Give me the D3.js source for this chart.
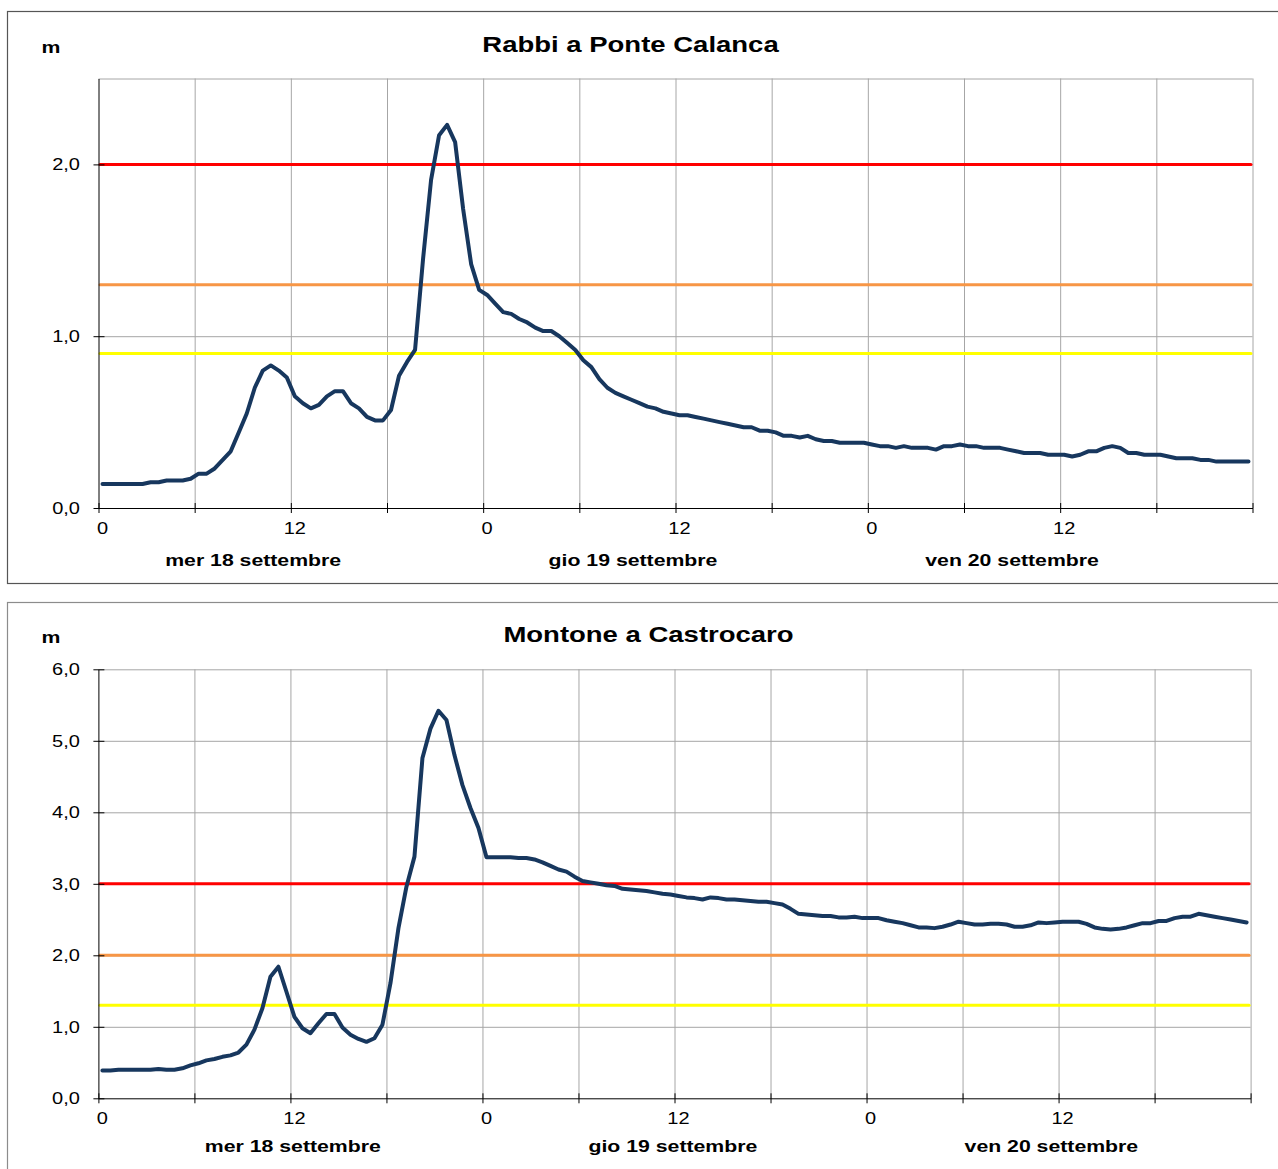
<!DOCTYPE html>
<html lang="it">
<meta charset="utf-8">
<style>
  body{ margin:0; background:#fff }
  text{ font-family:'Liberation Sans', Arial, sans-serif; fill:#000 }
  .title{ font-size:22px; font-weight:bold; text-anchor:middle }
  .unit{ font-size:17px; font-weight:bold; text-anchor:middle }
  .day{ font-size:17px; font-weight:bold; text-anchor:middle }
  .grid line{ stroke:#a6a6a6; stroke-width:1px }
  .grid path{ display:none }
</style>
<body>
<script src="https://cdn.jsdelivr.net/npm/d3@7"></script>
<script>

  // half-hour readings, 18-20 settembre (144 slots)
  var rabbiLevels = [
    0.14,0.14,0.14,0.14,0.14,0.14,0.15,0.15,0.16,0.16,
    0.16,0.17,0.20,0.20,0.23,0.28,0.33,0.44,0.55,0.70,
    0.80,0.83,0.80,0.76,0.65,0.61,0.58,0.60,0.65,0.68,
    0.68,0.61,0.58,0.53,0.51,0.51,0.57,0.77,0.85,0.92,
    1.45,1.91,2.17,2.23,2.13,1.74,1.42,1.27,1.24,1.19,
    1.14,1.13,1.10,1.08,1.05,1.03,1.03,1.00,0.96,0.92,
    0.86,0.82,0.75,0.70,0.67,0.65,0.63,0.61,0.59,0.58,
    0.56,0.55,0.54,0.54,0.53,0.52,0.51,0.50,0.49,0.48,
    0.47,0.47,0.45,0.45,0.44,0.42,0.42,0.41,0.42,0.40,
    0.39,0.39,0.38,0.38,0.38,0.38,0.37,0.36,0.36,0.35,
    0.36,0.35,0.35,0.35,0.34,0.36,0.36,0.37,0.36,0.36,
    0.35,0.35,0.35,0.34,0.33,0.32,0.32,0.32,0.31,0.31,
    0.31,0.30,0.31,0.33,0.33,0.35,0.36,0.35,0.32,0.32,
    0.31,0.31,0.31,0.30,0.29,0.29,0.29,0.28,0.28,0.27,
    0.27,0.27,0.27,0.27
  ]
  var montoneLevels = [
    0.39,0.39,0.40,0.40,0.40,0.40,0.40,0.41,0.40,0.40,
    0.42,0.46,0.49,0.53,0.55,0.58,0.60,0.64,0.75,0.96,
    1.26,1.70,1.84,1.49,1.14,0.98,0.91,1.05,1.18,1.18,
    0.99,0.89,0.83,0.79,0.84,1.03,1.61,2.38,2.96,3.38,
    4.76,5.17,5.42,5.29,4.80,4.38,4.06,3.78,3.37,3.37,
    3.37,3.37,3.36,3.36,3.34,3.30,3.25,3.20,3.17,3.10,
    3.04,3.02,3.00,2.98,2.97,2.93,2.92,2.91,2.90,2.88,
    2.86,2.85,2.83,2.81,2.80,2.78,2.81,2.80,2.78,2.78,
    2.77,2.76,2.75,2.75,2.73,2.71,2.65,2.58,2.57,2.56,
    2.55,2.55,2.53,2.53,2.54,2.52,2.52,2.52,2.49,2.47,
    2.45,2.42,2.39,2.39,2.38,2.40,2.43,2.47,2.45,2.43,
    2.43,2.44,2.44,2.43,2.40,2.40,2.42,2.46,2.45,2.46,
    2.47,2.47,2.47,2.44,2.39,2.37,2.36,2.37,2.39,2.42,
    2.45,2.45,2.48,2.48,2.52,2.54,2.54,2.58,2.56,2.54,
    2.52,2.50,2.48,2.46
  ]

  var rabbiThresholds = [2.0, 1.3, 0.9]
  var montoneThresholds = [3.0, 2.0, 1.3]
  var rabbiYTicks = [0, 1, 2]
  var montoneYTicks = [0, 1, 2, 3, 4, 5, 6]
  var xTickLabels = ['0', '12', '0', '12', '0', '12']
  var dayNames = ['mer 18 settembre', 'gio 19 settembre', 'ven 20 settembre']

  var thresholdColors = ['#FF0000', '#F79646', '#FFFF00']
  var SLOTS = 144
  var SX = 1.25   // text in the source is stretched horizontally

  var charts = [
    {title:'Rabbi a Ponte Calanca', values:rabbiLevels, thresholds:rabbiThresholds, yTicks:rabbiYTicks, yMax:2.5,
     frameTop:11.5, frameBottom:583.5, frameColor:'#555',
     left:98.5, right:1252.5, top:78.5, bottom:508,
     titleX:630.5, titleY:52, unitY:53, daySlots:[19.3, 66.7, 114], dayDy:58},
    {title:'Montone a Castrocaro', values:montoneLevels, thresholds:montoneThresholds, yTicks:montoneYTicks, yMax:6,
     frameTop:602.5, frameBottom:1200, frameColor:'#8c8c8c',
     left:98.4, right:1250.6, top:669.3, bottom:1098.3,
     titleX:648.5, titleY:642, unitY:643, daySlots:[24.3, 71.8, 119.1], dayDy:54}
  ]

  var fmt = d3.formatLocale({decimal:',', thousands:'.', grouping:[3], currency:['', '€']}).format('.1f')

  var svg = d3.select('body').append('svg').attr('width', 1278).attr('height', 1169)
  svg.append('rect').attr('width', 1278).attr('height', 1169).attr('fill', '#fff')

  function stretched(sel, x, y){
    return sel.attr('transform', 'translate(' + x + ',' + y + ') scale(' + SX + ',1)')
  }

  charts.forEach(function(c){
    var x = d3.scaleLinear().domain([0, SLOTS]).range([c.left, c.right])
    var y = d3.scaleLinear().domain([0, c.yMax]).range([c.bottom, c.top])

    svg.append('rect')
      .attr('x', 7.5).attr('y', c.frameTop)
      .attr('width', 1300).attr('height', c.frameBottom - c.frameTop)
      .attr('fill', 'none').attr('stroke', c.frameColor).attr('stroke-width', 1.2)

    stretched(svg.append('text').attr('class', 'title'), c.titleX, c.titleY).text(c.title)
    stretched(svg.append('text').attr('class', 'unit'), 51, c.unitY).text('m')

    // grid
    svg.append('g').attr('class', 'grid')
      .attr('transform', 'translate(0,' + c.bottom + ')')
      .call(d3.axisBottom(x).tickValues(d3.range(12, SLOTS + 1, 12)).tickSize(-(c.bottom - c.top)).tickFormat(''))
    var yGrid = c.yTicks.filter(function(v){ return v > 0 })
    if (yGrid.indexOf(c.yMax) < 0) yGrid.push(c.yMax)
    svg.append('g').attr('class', 'grid')
      .attr('transform', 'translate(' + c.left + ',0)')
      .call(d3.axisLeft(y).tickValues(yGrid).tickSize(-(c.right - c.left)).tickFormat(''))

    // alert thresholds
    svg.append('g').selectAll('line').data(c.thresholds).join('line')
      .attr('x1', x(0) + 1.5).attr('x2', x(SLOTS) - 1.5)
      .attr('y1', function(d){ return y(d) }).attr('y2', function(d){ return y(d) })
      .attr('stroke', function(d, i){ return thresholdColors[i] })
      .attr('stroke-width', 3).attr('stroke-linecap', 'round')

    // axes
    var xa = svg.append('g').attr('transform', 'translate(0,' + c.bottom + ')')
      .call(d3.axisBottom(x).tickValues(d3.range(0, SLOTS + 1, 12)).tickSizeOuter(0)
        .tickFormat(function(d){ return (d % 24 === 0 && d < SLOTS) ? xTickLabels[d / 24] : '' }))
    xa.select('.domain').attr('stroke', '#000')
    xa.selectAll('.tick line').attr('y1', -5).attr('y2', 5).attr('stroke', '#000')
    xa.selectAll('.tick text')
      .attr('x', 3.5 / SX).attr('y', 26).attr('dy', null)
      .attr('transform', 'scale(' + SX + ',1)')
      .style('font-family', "'Liberation Sans', Arial, sans-serif").style('font-size', '16px')

    var ya = svg.append('g').attr('transform', 'translate(' + c.left + ',0)')
      .call(d3.axisLeft(y).tickValues(c.yTicks).tickFormat(fmt).tickSizeOuter(0))
    ya.select('.domain').attr('stroke', '#000')
    ya.selectAll('.tick line').attr('x1', -5).attr('x2', 6).attr('stroke', '#000')
    ya.selectAll('.tick text')
      .attr('x', -18.5 / SX).attr('dy', '0.34em')
      .attr('transform', 'scale(' + SX + ',1)')
      .style('font-family', "'Liberation Sans', Arial, sans-serif").style('font-size', '16px')

    // day names
    c.daySlots.forEach(function(s, i){
      stretched(svg.append('text').attr('class', 'day'), x(s), c.bottom + c.dayDy).text(dayNames[i])
    })

    // water level
    var line = d3.line()
      .x(function(d, i){ return x(i + 0.5) })
      .y(function(d){ return y(d) })
    svg.append('path').datum(c.values)
      .attr('d', line)
      .attr('fill', 'none')
      .attr('stroke', '#17375E')
      .attr('stroke-width', 4)
      .attr('stroke-linejoin', 'round')
      .attr('stroke-linecap', 'round')
  })
</script>
</body>
</html>
